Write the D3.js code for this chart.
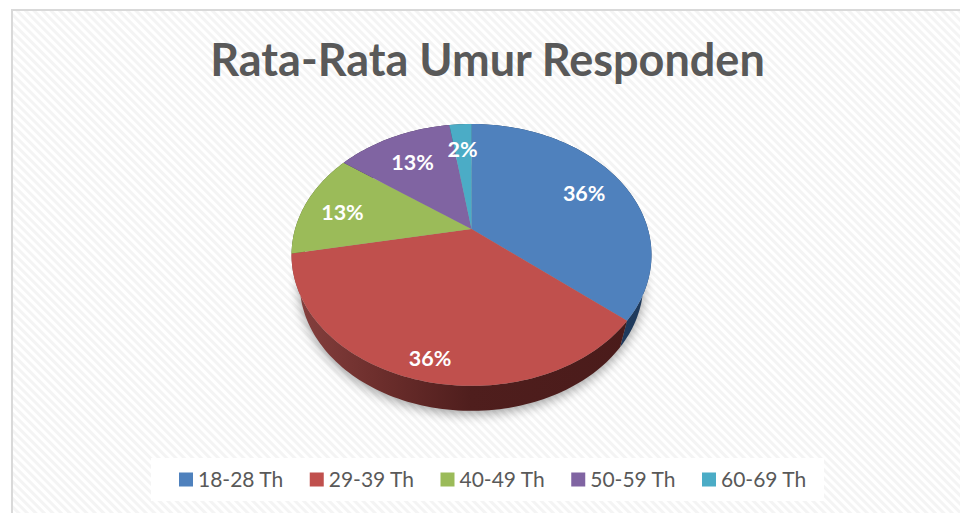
<!DOCTYPE html>
<meta charset="utf-8">
<style>
html, body { margin: 0; padding: 0; background: #fff; overflow: hidden; }
text { font-family: Lato, "Open Sans", sans-serif; }
</style>
<svg width="960" height="513"></svg>
<script src="https://cdn.jsdelivr.net/npm/d3@7"></script>
<script>
// data
var categories = ["18-28 Th", "29-39 Th", "40-49 Th", "50-59 Th", "60-69 Th"];
var values = [36, 36, 13, 12.6, 2.4];
var colors = ["#4f81bd", "#c0504d", "#9bbb59", "#8064a2", "#4bacc6"];
var sideColors = ["#1f3a5c", "#5a2322", "#4c5c2b", "#3f3150", "#255663"];
var titleText = "Rata-Rata Umur Responden";

var svg = d3.select("svg");
var defs = svg.append("defs");

// hatched chart background
var hatch = defs.append("pattern")
    .attr("id", "hatch")
    .attr("width", 6)
    .attr("height", 6)
    .attr("patternUnits", "userSpaceOnUse")
    .attr("patternTransform", "rotate(45)");
hatch.append("rect").attr("width", 6).attr("height", 6).attr("fill", "#fff");
hatch.append("rect").attr("width", 6).attr("height", 3).attr("fill", "#f4f4f4");

var sideGrad = defs.append("linearGradient")
    .attr("id", "redSide")
    .attr("gradientUnits", "userSpaceOnUse")
    .attr("x1", 300).attr("x2", 640).attr("y1", 0).attr("y2", 0);
sideGrad.selectAll("stop")
    .data([[0, "#843f3d"], [0.22, "#6e2f2d"], [0.5, "#4f1e1d"], [1, "#4a1b1a"]])
    .enter().append("stop")
    .attr("offset", function(d) { return d[0]; })
    .attr("stop-color", function(d) { return d[1]; });

defs.append("filter")
    .attr("id", "blur")
    .attr("x", "-20%").attr("y", "-20%").attr("width", "140%").attr("height", "140%")
    .append("feGaussianBlur").attr("stdDeviation", 6);

svg.append("rect")
    .attr("x", 12).attr("y", 10)
    .attr("width", 1000).attr("height", 600)
    .attr("fill", "url(#hatch)")
    .attr("stroke", "#d9d9d9")
    .attr("stroke-width", 2);

svg.append("text")
    .attr("x", 487.5)
    .attr("y", 76)
    .attr("text-anchor", "middle")
    .attr("font-size", 45)
    .attr("font-weight", 700)
    .attr("fill", "#595959")
    .text(titleText);

// pie geometry: tilted disc in perspective, apex sits above the ellipse centre
var cx = 471.5, cy = 229;
var A = 176.4, B = 125.8, k = 0.198;

function project(angle, r) {
  var u = r * Math.sin(angle), v = r * Math.cos(angle), w = 1 + k * v;
  return [cx + A * u / w, cy - B * v / w];
}
// rim of the underside of the pie
function lower(p) {
  return [cx + (p[0] - cx) * 0.955, 283 + (p[1] - 255) * 128 / 131];
}

var color = d3.scaleOrdinal().domain(categories).range(colors);
var side = d3.scaleOrdinal().domain(categories).range(sideColors);
var pie = d3.pie().sort(null).value(function(d, i) { return values[i]; });
var arcs = pie(categories);
var total = d3.sum(values);
var line = d3.line();

function rim(d) {
  var n = Math.max(4, Math.ceil((d.endAngle - d.startAngle) * 40));
  return d3.range(n + 1).map(function(i) {
    return project(d.startAngle + (d.endAngle - d.startAngle) * i / n, 1);
  });
}
function slicePath(d) {
  return line([[cx, cy]].concat(rim(d))) + "Z";
}
function sidePath(d) {
  var top = rim(d);
  return line(top.concat(top.map(lower).reverse())) + "Z";
}

var chart = svg.append("g");

// soft shadow under the pie
chart.append("path")
    .attr("d", line(rim({startAngle: 0, endAngle: 2 * Math.PI}).map(lower)) + "Z")
    .attr("transform", "translate(0,3)")
    .attr("fill", "#000")
    .attr("opacity", 0.38)
    .attr("filter", "url(#blur)");

chart.selectAll(".side")
    .data(arcs)
    .enter().append("path")
    .attr("class", "side")
    .attr("d", sidePath)
    .attr("fill", function(d, i) { return i == 1 ? "url(#redSide)" : side(d.data); });

chart.selectAll(".slice")
    .data(arcs)
    .enter().append("path")
    .attr("class", "slice")
    .attr("d", slicePath)
    .attr("fill", function(d) { return color(d.data); });

// label placement on the disc: radial position, then a nudge in pixels
var labelR = [0.74, 0.88, 0.75, 0.72, 0.72];
var labelDx = [1.5, 5, -4, 0, -0.5];
var labelDy = [2, 0, 3, 2, -1];
var fmt = d3.format(".0f");

chart.selectAll(".label")
    .data(arcs)
    .enter().append("text")
    .attr("class", "label")
    .attr("transform", function(d, i) {
      var p = project((d.startAngle + d.endAngle) / 2, labelR[i]);
      return "translate(" + (p[0] + labelDx[i]) + "," + (p[1] + labelDy[i]) + ")";
    })
    .attr("text-anchor", "middle")
    .attr("dy", "0.36em")
    .attr("font-size", 21.5)
    .attr("font-weight", 700)
    .attr("fill", "#fff")
    .text(function(d, i) { return fmt(values[i] / total * 100) + "%"; });

// legend
svg.append("rect")
    .attr("x", 151).attr("y", 458)
    .attr("width", 673).attr("height", 43)
    .attr("fill", "#fff");

var legendX = d3.scalePoint().domain(categories).range([179, 702]);

var legend = svg.append("g")
    .selectAll("g")
    .data(categories)
    .enter().append("g")
    .attr("transform", function(d) { return "translate(" + legendX(d) + ",472.5)"; });

legend.append("rect")
    .attr("width", 14)
    .attr("height", 14)
    .attr("fill", function(d) { return color(d); });

legend.append("text")
    .attr("x", 19)
    .attr("y", 7)
    .attr("dy", "0.36em")
    .attr("font-size", 21)
    .attr("fill", "#595959")
    .text(function(d) { return d; });
</script>
